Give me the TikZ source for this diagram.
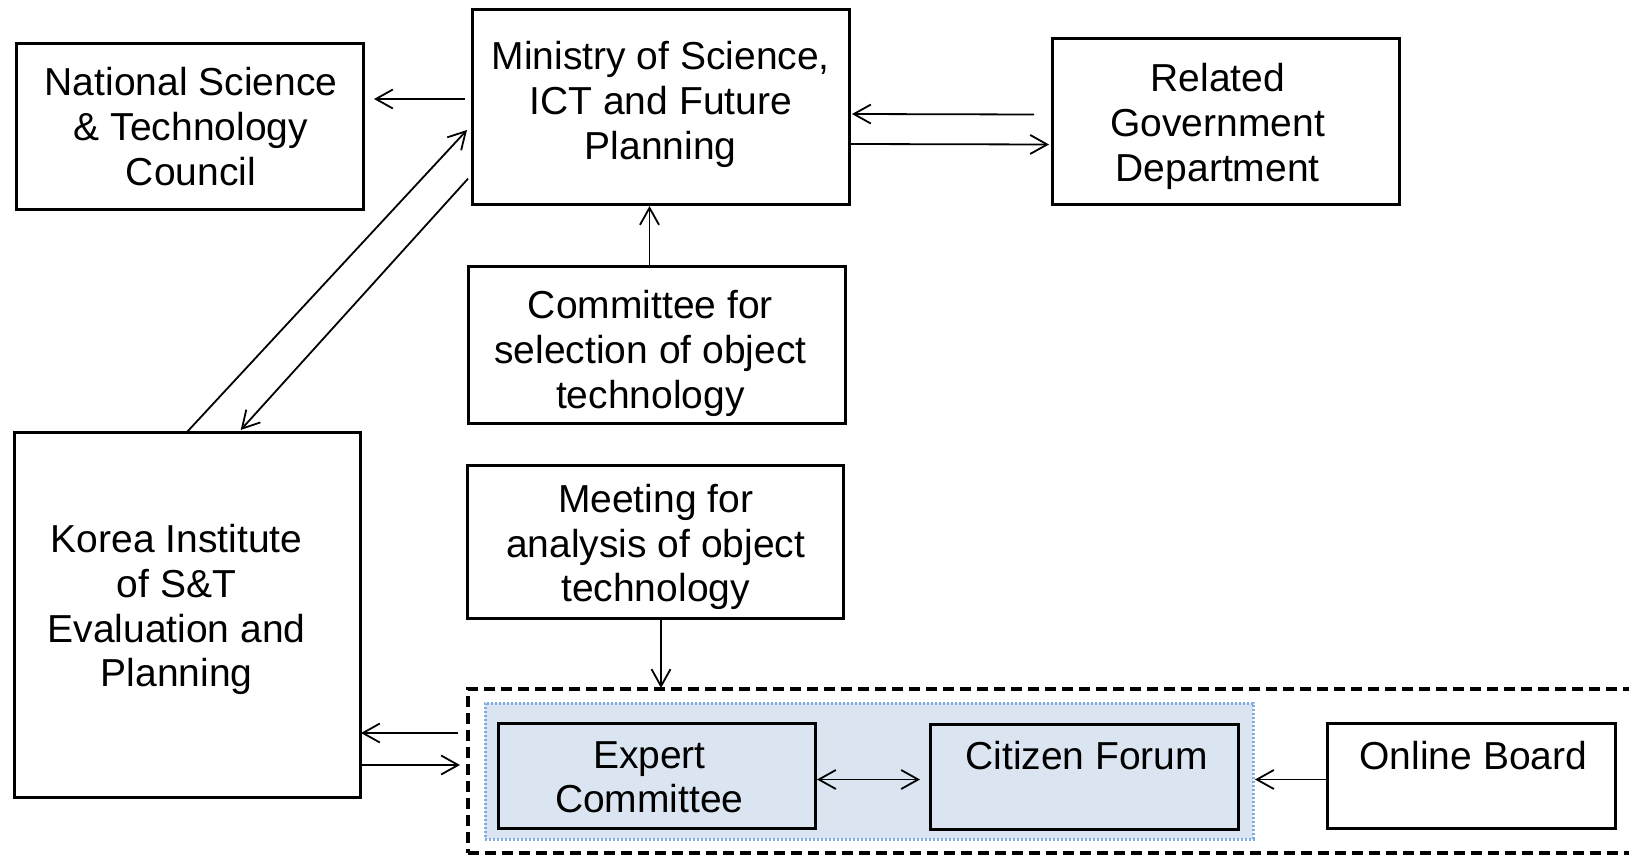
\documentclass[tikz,border=0pt]{standalone}
\usepackage{fontspec}
\setmainfont{Liberation Sans}
\usetikzlibrary{arrows.meta,calc}
\definecolor{grpfill}{HTML}{DBE5F1}
\definecolor{grpline}{HTML}{82ADE3}
\begin{document}
\begin{tikzpicture}[x=1pt,y=-1pt,
  box/.style={draw=black,line width=3pt,inner sep=0pt,outer sep=0pt,fill=white},
  lbl/.style={align=center,font=\fontsize{39}{44.7}\selectfont,inner sep=0pt},
  arr/.style={line width=1.8pt,-{Straight Barb[length=17pt,width=19pt]}},
  biarr/.style={line width=1.8pt,{Straight Barb[length=17pt,width=19pt]}-{Straight Barb[length=17pt,width=19pt]}},
  dashbox/.style={draw=black,line width=3.4pt,dash pattern=on 11pt off 6pt,inner sep=0pt,outer sep=0pt},
  grpbox/.style={draw=grpline,fill=grpfill,line width=3pt,dash pattern=on 2pt off 2pt,inner sep=0pt,outer sep=0pt}]
\useasboundingbox (0,0) rectangle (1629,856);

% boxes
\node[box,minimum width=347pt,minimum height=165pt] (nstc) at (189.5,126.5) {};
\node[box,minimum width=377pt,minimum height=194pt] (min) at (660.5,107) {};
\node[box,minimum width=347pt,minimum height=165pt] (rel) at (1225.5,121.5) {};
\node[box,minimum width=377pt,minimum height=157pt] (sel) at (656.5,344.5) {};
\node[box,minimum width=376pt,minimum height=153pt] (mtg) at (655,541.5) {};
\node[box,minimum width=346pt,minimum height=365pt] (kor) at (187,614.5) {};

% panel group
\node[dashbox,minimum width=1232pt,minimum height=164pt] (dash) at (1084,771) {};
\node[grpbox,minimum width=768pt,minimum height=136pt] (grp) at (869,771) {};
\node[box,fill=grpfill,minimum width=317pt,minimum height=105pt] (exp) at (656.5,775.5) {};
\node[box,fill=grpfill,minimum width=308pt,minimum height=105pt] (cit) at (1084,776.5) {};
\node[box,minimum width=288pt,minimum height=105pt] (onl) at (1471,775.5) {};

% labels
\node[lbl] (tnstc) at (191,126.7) {National Science\\\& Technology\\Council};
\node[lbl] (tmin) at (660.8,104.5) {Ministry of Science,\\ICT and Future\\Planning};
\node[lbl] (trel) at (1217.7,126.3) {Related\\Government\\Department};
\node[lbl] (tsel) at (650.4,353.3) {Committee for\\selection of object\\technology};
\node[lbl] (tmtg) at (655.6,547.2) {Meeting for\\analysis of object\\technology};
\node[lbl] (tkor) at (176.6,609.8) {Korea Institute\\of S\&T\\Evaluation and\\Planning};
\node[lbl] (texp) at (649.4,777.2) {Expert\\Committee};
\node[lbl] (tcit) at (1086.8,755.4) {Citizen Forum};
\node[lbl] (tonl) at (1473.3,755.4) {Online Board};

% connectors
\draw[arr] ($(min.west)+(-7,-8)$) -- ($(nstc.east)+(11,-27.5)$);
\draw[arr] ($(rel.west)+(-18,-7)$) -- ($(min.east)+(3,7)$);
\draw[arr] ($(min.east)+(1,37)$) -- ($(rel.west)+(-3,23)$);
\coordinate (s1) at ($(sel.north)+(-7,0)$);
\draw[arr] (s1) -- ($(s1 |- min.south)+(0,2)$);
\draw[arr] (kor.north) -- ($(min.west)+(-5,23)$);
\draw[arr] ($(min.west)+(-4,71.7)$) -- ($(kor.north)+(53.7,-2)$);
\draw[arr] ($(dash.west)+(-10,-38)$) -- ($(kor.east)+(1,118.5)$);
\draw[arr] ($(kor.east)+(0,150.5)$) -- ($(dash.west)+(-8,-6)$);
\coordinate (m1) at ($(mtg.south)+(6,0)$);
\draw[arr] (m1) -- ($(m1 |- dash.north)+(0,-1)$);
\coordinate (e1) at ($(exp.east)+(2,4)$);
\draw[biarr] (e1) -- ($(e1 -| cit.west)+(-10,0)$);
\coordinate (o1) at ($(onl.west)+(0,4)$);
\draw[arr] (o1) -- ($(o1 -| grp.east)+(2,0)$);
\end{tikzpicture}
\end{document}
